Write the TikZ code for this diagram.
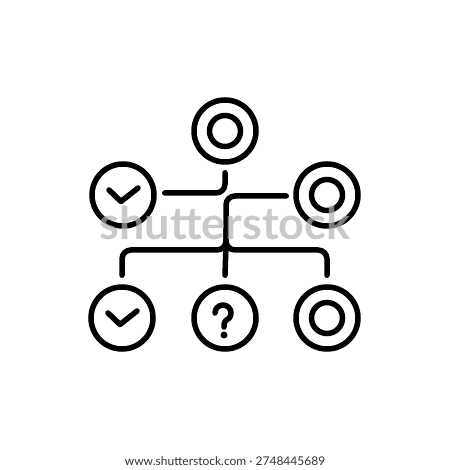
\documentclass[tikz,border=0pt]{standalone}
\usepackage{fontspec}
\newfontfamily\wmfont{Lato}
\tikzset{
    ring/.style={circle, draw, line width=5.5pt, minimum size=62pt, inner sep=0pt},
    link/.style={line width=5.5pt, line cap=round, rounded corners=9pt},
    glyph/.style={line width=5.5pt, line cap=round, line join=round}
}
\begin{document}
\begin{tikzpicture}[x=1pt, y=1pt]
    \useasboundingbox (0, 0) rectangle (450, 470);

    % Draw circles
    \node [ring] (top) at (225, 339) {};
    \node [ring] (mleft) at (123, 275) {};
    \node [ring] (mright) at (327, 275) {};
    \node [ring] (bleft) at (122, 152) {};
    \node [ring] (bmid) at (225, 152) {};
    \node [ring] (bright) at (327, 152) {};

    \draw [line width=5.5pt] (top) circle (15.5);
    \draw [line width=5.5pt] (mright) circle (15.5);
    \draw [line width=5.5pt] (bright) circle (15.5);

    % Marks inside
    \draw [glyph] ([shift={(-14, 5)}]mleft.center) -- ++(12, -11.5) -- ++(17, 13.5);
    \draw [glyph] ([shift={(-14, 5)}]bleft.center) -- ++(12, -11.5) -- ++(17, 13.5);
    \draw [glyph] (215, 157) arc (180:-40:8) .. controls (225, 149) .. (224, 146) -- (224, 143);
    \fill (224, 135) circle (3.5);

    % Connectors
    \coordinate (ta) at ([yshift=-8]top.south);
    \coordinate (la) at ([xshift=8]mleft.east);
    \coordinate (ra) at ([xshift=-7]mright.west);
    \coordinate (jn) at (225, 220);
    \coordinate (bl) at ([yshift=9]bleft.north);
    \coordinate (bm) at ([yshift=9]bmid.north);
    \coordinate (br) at ([yshift=9]bright.north);

    \draw [link] (ta) -- (ta |- 0, 277) -- (la |- 0, 277);
    \draw [link] (ra |- 0, 274) -- (226, 274) -- (226, 220) -- (bl |- jn) -- (bl);
    \draw [link] (226, 240) -- (226, 220) -- (br |- jn) -- (br);
    \draw [line width=5.5pt, line cap=round] (226, 225) -- (bm);

    % Watermark
    \node [gray!60, opacity=0.7, anchor=base, inner sep=0pt, font=\wmfont\bfseries\fontsize{45}{45}\selectfont] (wm) at (225, 230) {shutterstock};
    \node [font=\wmfont\fontsize{12}{12}\selectfont, text=black!80] (url) at (225, 9) {www.shutterstock.com · 2748445689};
\end{tikzpicture}
\end{document}
